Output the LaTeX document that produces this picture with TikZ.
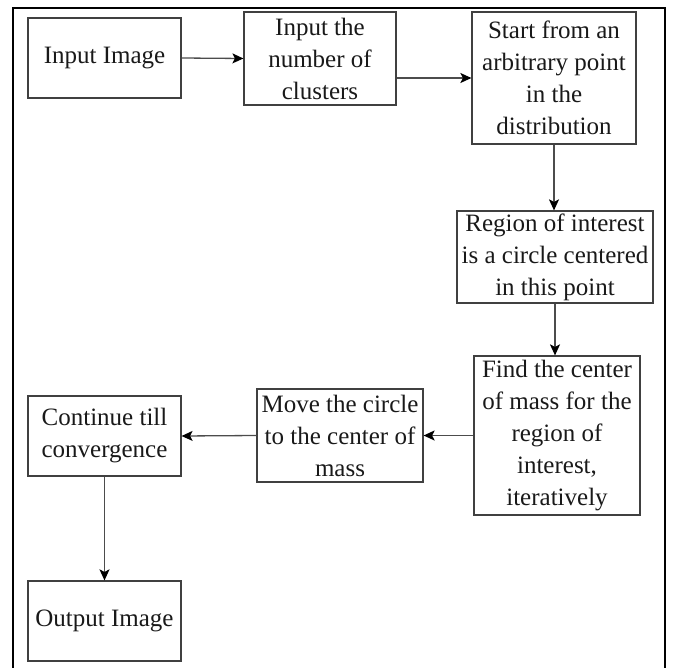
\documentclass[tikz,border=0pt]{standalone}
\usepackage{fontspec}
\setmainfont{Liberation Serif}
\usetikzlibrary{arrows.meta}
\tikzset{
  box/.style={draw=black!75, line width=1.2bp, rectangle, align=center, inner sep=0pt,
    font=\fontsize{25bp}{32bp}\selectfont, text=black!90},
  conn/.style={draw=black!70, line width=1.3bp, -{Stealth[length=11bp,width=10bp,inset=2.5bp,black]}},
  frame/.style={draw=black, line width=2.4bp}
}
\begin{document}
\begin{tikzpicture}[x=1bp,y=-1bp]
\useasboundingbox (0,0) rectangle (675,668);
\draw[frame] (13,670) -- (13,8) -- (665,8) -- (665,670);
\node[box, minimum width=153bp, minimum height=80bp] (a) at (104.5,58) {Input Image};
\node[box, minimum width=152bp, minimum height=93bp] (b) at (320,58.5) {Input the\\number of\\clusters};
\node[box, minimum width=164bp, minimum height=132bp] (c) at (554,78) {Start from an\\arbitrary point\\in the\\distribution};
\node[box, minimum width=196bp, minimum height=92bp] (d) at (555,257) {Region of interest\\is a circle centered\\in this point};
\node[box, minimum width=166bp, minimum height=159bp] (e) at (557,435.5) {Find the center\\of mass for the\\region of\\interest,\\iteratively};
\node[box, minimum width=166bp, minimum height=93bp] (f) at (340,435.5) {Move the circle\\to the center of\\mass};
\node[box, minimum width=153bp, minimum height=80bp] (g) at (104.5,436) {Continue till\\convergence};
\node[box, minimum width=153bp, minimum height=80bp] (h) at (104.5,621) {Output Image};
\draw[conn] (a.east) -- (b.west);
\draw[conn] (b.east |- c.west) -- (c.west);
\draw[conn] (c.south) -- (c.south |- d.north);
\draw[conn] (d.south) -- (d.south |- e.north);
\draw[conn] (e.west) -- (f.east);
\draw[conn] (f.west) -- (g.east);
\draw[conn] (g.south) -- (h.north);
\end{tikzpicture}
\end{document}
